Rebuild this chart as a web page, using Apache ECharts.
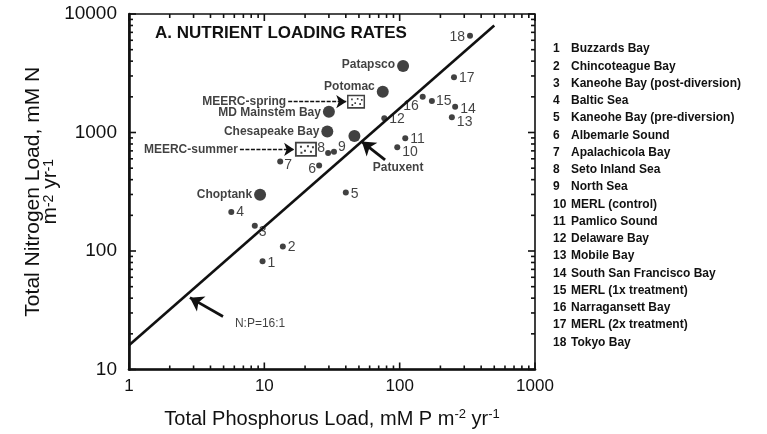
<!DOCTYPE html>
<html><head><meta charset="utf-8">
<script src="https://cdn.jsdelivr.net/npm/echarts@6/dist/echarts.min.js"></script>
<style>html,body{margin:0;padding:0;background:#fff}#c{width:767px;height:434px}</style>
</head><body><div id="c"></div>
<script>
// ---- data ----
const siteNames = ['Buzzards Bay','Chincoteague Bay','Kaneohe Bay (post-diversion)','Baltic Sea',
  'Kaneohe Bay (pre-diversion)','Albemarle Sound','Apalachicola Bay','Seto Inland Sea','North Sea',
  'MERL (control)','Pamlico Sound','Delaware Bay','Mobile Bay','South San Francisco Bay',
  'MERL (1x treatment)','Narragansett Bay','MERL (2x treatment)','Tokyo Bay'];
const siteP = [9.7, 13.7, 8.5, 5.7, 40, 25.4, 13.1, 29.6, 32.7, 96, 110, 77, 243, 257, 173, 148, 252, 331];
const siteN = [82, 109, 163, 213, 312, 526, 569, 673, 687, 752, 895, 1320, 1346, 1652, 1846, 2006, 2924, 6550];

const bayNames = ['Patapsco','Potomac','MD Mainstem Bay','Chesapeake Bay','Patuxent','Choptank'];
const bayP = [106, 75, 30, 29.2, 46.3, 9.3];
const bayN = [3640, 2210, 1500, 1018, 936, 298];

const meercNames = ['MEERC-spring','MEERC-summer'];
const meercP = [47.6, 20.3];
const meercN = [1820, 723];

const ratioLineP = [1, 500];
const ratioLineN = [16, 8000];

const xTickLabels = [1, 10, 100, 1000];
const yTickLabels = [10, 100, 1000, 10000];
const minorTicksP = [2,3,4,5,6,7,8,9,20,30,40,50,60,70,80,90,200,300,400,500,600,700,800,900];
const minorTicksN = [20,30,40,50,60,70,80,90,200,300,400,500,600,700,800,900,2000,3000,4000,5000,6000,7000,8000,9000];

// ---- annotations (text + arrows) ----
const annoText = ['N:P=16:1', 'Patuxent'];
const annoP = [9.3, 97.3];
const annoN = [24.4, 503];
const arrowFromP = [4.95, 78, 15, 6.6];
const arrowFromN = [28, 588, 1820, 720];
const arrowToP = [2.82, 52.5, 40.3, 16.6];
const arrowToN = [40.4, 838, 1820, 720];

// ---- styles (kept apart from data) ----
const siteLabelPos = ['right','right','right','right','right','left','right','left','right',
  'right','right','right','right','right','right','left','right','left'];
const siteLabelOff = [[0,2],[0,1],[-1,6],[0,0],[0,2],[2,4],[-1,4],[2,-5],[-1,-5],
  [0,5],[0,1],[0,1],[0,5],[0,2],[-1,0],[1,9],[0,1],[0,1]];
const bayLabelShow = [true,true,true,true,false,true];
const bayLabelOff = [[0,-1],[0,-5],[0,1],[0,0],[0,0],[0,0]];

const INK = '#111';
const FONT = '"Liberation Sans", Arial, sans-serif';

const chart = echarts.init(document.getElementById('c'));

function tickRender(isX) {
  return function (params, api) {
    const cs = params.coordSys;
    const p = api.coord([api.value(0), api.value(1)]);
    const len = api.value(2);
    const st = { stroke: INK, lineWidth: 1.6 };
    if (isX) {
      const b = cs.y + cs.height, t = cs.y;
      return { type: 'group', children: [
        { type: 'line', shape: { x1: p[0], y1: b, x2: p[0], y2: b - len }, style: st },
        { type: 'line', shape: { x1: p[0], y1: t, x2: p[0], y2: t + len }, style: st }
      ]};
    } else {
      const l = cs.x, r = cs.x + cs.width;
      return { type: 'group', children: [
        { type: 'line', shape: { x1: l, y1: p[1], x2: l + len, y2: p[1] }, style: st },
        { type: 'line', shape: { x1: r, y1: p[1], x2: r - len, y2: p[1] }, style: st }
      ]};
    }
  };
}

const xTickData = xTickLabels.map(v => [v, 10, 7]).concat(minorTicksP.map(v => [v, 10, 4]));
const yTickData = yTickLabels.map(v => [1, v, 7]).concat(minorTicksN.map(v => [1, v, 4]));

const boxPath = 'path://M0,0H22V15H0Z M1.8,1.8V13.2H20.2V1.8Z M5,4h2v2h-2z M12,3.5h2v2h-2z M9,8h2v2h-2z M15,9h2v2h-2z M5.5,10h2v2h-2z M17,4.5h2v2h-2z';

function supRich(size, lh) {
  return {
    t: { fontSize: size, fontFamily: FONT, color: INK, lineHeight: lh },
    s: { fontSize: Math.round(size * 0.65), fontFamily: FONT, color: INK, lineHeight: lh, verticalAlign: 'top', padding: [0, 0, 7, 0] }
  };
}

const option = {
  backgroundColor: '#fff',
  animation: false,
  title: {
    text: 'A. NUTRIENT LOADING RATES',
    left: 155, top: 25, padding: 0,
    textStyle: { fontFamily: FONT, fontSize: 17, fontWeight: 'bold', color: INK }
  },
  grid: { left: 129, top: 14, right: 232, bottom: 64, show: true, borderColor: INK, borderWidth: 1.6, backgroundColor: 'transparent' },
  xAxis: {
    type: 'log', logBase: 10, min: 1, max: 1000,
    axisLine: { show: true, lineStyle: { color: INK, width: 2.6 } },
    axisTick: { show: false },
    splitLine: { show: false },
    axisLabel: { color: INK, fontSize: 17, fontFamily: FONT, margin: 8, formatter: v => String(Math.round(v)) },
    name: '{t|Total Phosphorus Load, mM P m}{s|-2}{t| yr}{s|-1}',
    nameLocation: 'middle', nameGap: 38, nameMoveOverlap: false,
    nameTextStyle: { rich: supRich(20, 23) }
  },
  yAxis: {
    type: 'log', logBase: 10, min: 10, max: 10000,
    axisLine: { show: true, lineStyle: { color: INK, width: 2.6 } },
    axisTick: { show: false },
    splitLine: { show: false },
    axisLabel: { color: INK, fontSize: 19, fontFamily: FONT, margin: 12, formatter: v => String(Math.round(v)) },
    name: '{t|Total Nitrogen Load, mM N}\n{t|m}{s|-2}{t| yr}{s|-1}',
    nameLocation: 'middle', nameGap: 70, nameRotate: 90, nameMoveOverlap: false,
    nameTextStyle: { rich: supRich(21, 17), align: 'center' }
  },
  graphic: [{
    type: 'text', left: 553, top: 43,
    style: {
      text: siteNames.map((n, i) => '{n|' + (i + 1) + '}{t|' + n + '}').join('\n'),
      rich: {
        n: { width: 18, fontSize: 12, fontWeight: 'bold', fontFamily: FONT, fill: INK, lineHeight: 17.26 },
        t: { fontSize: 12, fontWeight: 'bold', fontFamily: FONT, fill: INK, lineHeight: 17.26 }
      }
    }
  }],
  series: [
    { type: 'custom', silent: true, clip: false, renderItem: tickRender(true), data: xTickData, encode: { x: 0, y: 1 }, z: 5 },
    { type: 'custom', silent: true, clip: false, renderItem: tickRender(false), data: yTickData, encode: { x: 0, y: 1 }, z: 5 },
    {
      type: 'line', name: 'N:P=16:1', silent: true,
      data: ratioLineP.map((p, i) => [p, ratioLineN[i]]),
      symbol: 'none', lineStyle: { color: INK, width: 2.6 }, z: 3,
      markLine: {
        silent: true, animation: false,
        symbol: ['none', 'arrow'],
        label: { show: false },
        data: arrowFromP.map((p, i) => [
          { coord: [p, arrowFromN[i]], symbolSize: i < 2 ? 13 : 10,
            lineStyle: i < 2 ? { color: INK, width: 2.8, type: 'solid' } : { color: INK, width: 1.4, type: [4, 1.5] } },
          { coord: [arrowToP[i], arrowToN[i]], symbolSize: i < 2 ? 13 : 10 }
        ])
      }
    },
    {
      type: 'scatter', name: 'sites', symbol: 'circle', symbolSize: 6, z: 6,
      itemStyle: { color: INK },
      data: siteP.map((p, i) => ({
        value: [p, siteN[i]],
        label: { show: true, position: siteLabelPos[i], offset: siteLabelOff[i], distance: 2,
          formatter: String(i + 1), color: INK, fontSize: 14, fontFamily: FONT }
      }))
    },
    {
      type: 'scatter', name: 'bays', symbol: 'circle', symbolSize: 12, z: 6,
      itemStyle: { color: INK },
      data: bayP.map((p, i) => ({
        value: [p, bayN[i]],
        label: { show: bayLabelShow[i], position: 'left', offset: bayLabelOff[i], distance: 2,
          formatter: bayNames[i], color: INK, fontSize: 12, fontWeight: 'bold', fontFamily: FONT }
      }))
    },
    {
      type: 'scatter', name: 'MEERC', symbol: boxPath, z: 6,
      itemStyle: { color: INK },
      data: meercP.map((p, i) => ({
        value: [p, meercN[i]],
        symbolSize: i === 0 ? [18, 14] : [22, 15]
      }))
    },
    {
      type: 'scatter', name: 'MEERC labels', symbolSize: 0, z: 6, silent: true,
      data: arrowFromP.slice(2).map((p, i) => ({
        value: [p, arrowFromN[i + 2]],
        label: { show: true, position: 'left', distance: 2, formatter: meercNames[i],
          color: INK, fontSize: 12, fontWeight: 'bold', fontFamily: FONT }
      }))
    },
    {
      type: 'scatter', name: 'notes', symbolSize: 0, z: 6, silent: true,
      data: annoP.map((p, i) => ({
        value: [p, annoN[i]],
        label: { show: true, position: 'inside', formatter: annoText[i], color: INK,
          fontSize: 12, fontWeight: i === 0 ? 'normal' : 'bold', fontFamily: FONT }
      }))
    }
  ]
};
chart.setOption(option);
</script>
</body></html>
